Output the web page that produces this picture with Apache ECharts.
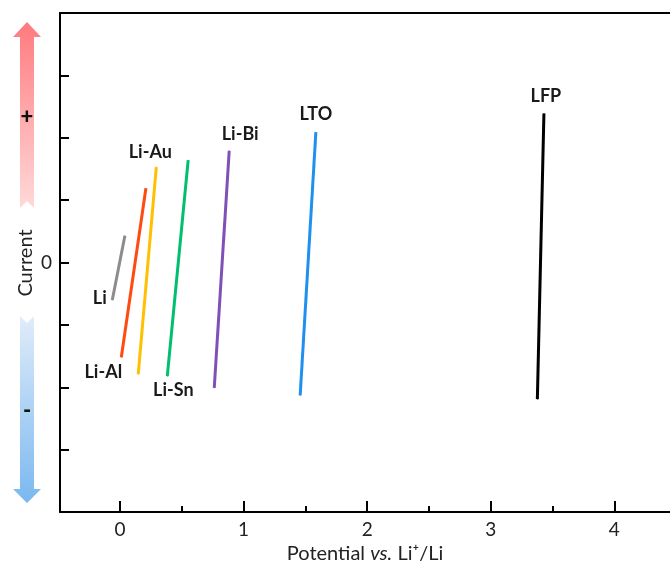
<!DOCTYPE html>
<html>
<head>
<meta charset="utf-8">
<script src="https://cdn.jsdelivr.net/npm/echarts@6/dist/echarts.min.js"></script>
<style>
  html, body { margin: 0; padding: 0; background: #fff; }
  #chart { width: 670px; height: 564px; }
</style>
</head>
<body>
<div id="chart"></div>
<script>
// 各电极的 电位/电流 端点
const names = ['Li', 'Li-Al', 'Li-Au', 'Li-Sn', 'Li-Bi', 'LTO', 'LFP']
const potentialLow = [-0.062, 0.011, 0.148, 0.383, 0.763, 1.458, 3.377]
const potentialHigh = [0.04, 0.21, 0.294, 0.552, 0.884, 1.585, 3.43]
const currentLow = [-0.60, -1.52, -1.79, -1.82, -2.01, -2.13, -2.19]
const currentHigh = [0.43, 1.19, 1.53, 1.64, 1.79, 2.09, 2.39]
const colors = ['#8c8c8c', '#ff4a10', '#ffc000', '#00c070', '#8050b8', '#2090f0', '#000000']

const xMajorTicks = [0, 1, 2, 3, 4]
const xMinorTicks = [0.5, 1.5, 2.5, 3.5]

// 标签放在哪一端 + 偏移
const labelSpec = [
  { end: 0, position: 'left', offset: [0, -2] },
  { end: 0, position: 'bottom', offset: [-18, 0] },
  { end: 1, position: 'top', offset: [-6, 0] },
  { end: 0, position: 'bottom', offset: [6, 0] },
  { end: 1, position: 'top', offset: [11, -2] },
  { end: 1, position: 'top', offset: [0, -3] },
  { end: 1, position: 'top', offset: [2, -3] },
]

const FONT = 'Lato, "Open Sans", sans-serif'

const chart = echarts.init(document.getElementById('chart'))

const series = names.map((name, i) => {
  const spec = labelSpec[i]
  const pts = [
    { value: [potentialLow[i], currentLow[i]] },
    { value: [potentialHigh[i], currentHigh[i]] },
  ]
  pts[spec.end].label = {
    show: true,
    formatter: name,
    position: spec.position,
    offset: spec.offset,
    distance: 5,
    fontFamily: FONT,
    fontWeight: 'bold',
    fontSize: 18,
    color: '#1a1a1a',
  }
  return {
    name,
    type: 'line',
    xAxisIndex: 0,
    yAxisIndex: 0,
    data: pts,
    symbol: 'circle',
    symbolSize: 1,
    showSymbol: true,
    itemStyle: { color: colors[i] },
    lineStyle: { color: colors[i], width: 3 },
    silent: true,
    z: 3,
  }
})

const upGrad = new echarts.graphic.LinearGradient(0, 0, 0, 1, [
  { offset: 0, color: '#ff7a7e' },
  { offset: 1, color: '#ffd9d9' },
])
const downGrad = new echarts.graphic.LinearGradient(0, 0, 0, 1, [
  { offset: 0, color: '#e0ecf9' },
  { offset: 1, color: '#7ab8f0' },
])

chart.setOption({
  animation: false,
  backgroundColor: '#fff',
  grid: { left: 60, right: 0, top: 13, bottom: 52, containLabel: false, outerBoundsMode: 'none' },
  xAxis: [
    {
      type: 'value',
      min: -0.485,
      max: 4.45,
      position: 'bottom',
      name: 'Potential {i|vs.} Li\u207A/Li',
      nameLocation: 'middle',
      nameGap: 23,
      nameTextStyle: {
        fontFamily: FONT,
        fontSize: 20,
        color: '#222',
        rich: { i: { fontFamily: FONT, fontSize: 20, fontStyle: 'italic', color: '#222' } },
      },
      axisLine: { onZero: false, lineStyle: { color: '#000', width: 2 } },
      axisTick: { inside: true, length: 11, customValues: xMajorTicks, lineStyle: { color: '#000', width: 2 } },
      axisLabel: { customValues: xMajorTicks, margin: 8, fontFamily: FONT, fontSize: 19, color: '#222' },
      splitLine: { show: false },
    },
    {
      type: 'value',
      min: -0.485,
      max: 4.45,
      position: 'bottom',
      axisLine: { show: false, onZero: false },
      axisTick: { inside: true, length: 6, customValues: xMinorTicks, lineStyle: { color: '#000', width: 2 } },
      axisLabel: { show: false },
      splitLine: { show: false },
    },
    {
      type: 'value',
      min: -0.485,
      max: 4.45,
      position: 'top',
      axisLine: { onZero: false, lineStyle: { color: '#000', width: 2 } },
      axisTick: { show: false },
      axisLabel: { show: false },
      splitLine: { show: false },
    },
  ],
  yAxis: {
    type: 'value',
    min: -4,
    max: 4,
    interval: 1,
    axisLine: { onZero: false, lineStyle: { color: '#000', width: 2 } },
    axisTick: { inside: true, length: 9, lineStyle: { color: '#000', width: 2 } },
    axisLabel: {
      margin: 8,
      fontFamily: FONT,
      fontSize: 19,
      color: '#222',
      formatter: (v) => (v === 0 ? '0' : ''),
    },
    splitLine: { show: false },
  },
  graphic: [
    {
      type: 'polygon',
      shape: { points: [[27, 22], [41, 37], [34, 37], [34, 208], [27, 201], [20, 208], [20, 37], [13, 37]] },
      style: { fill: upGrad },
    },
    {
      type: 'polygon',
      shape: { points: [[20, 316], [27, 323], [34, 316], [34, 489], [41, 489], [27, 503], [13, 489], [20, 489]] },
      style: { fill: downGrad },
    },
    {
      type: 'text',
      x: 27, y: 117,
      style: { text: '+', fontFamily: FONT, fontWeight: 900, fontSize: 22, fill: '#111', align: 'center', verticalAlign: 'middle' },
    },
    {
      type: 'text',
      x: 27, y: 411,
      style: { text: '-', fontFamily: FONT, fontWeight: 900, fontSize: 22, fill: '#111', align: 'center', verticalAlign: 'middle' },
    },
    {
      type: 'text',
      x: 26, y: 263,
      rotation: Math.PI / 2,
      style: { text: 'Current', fontFamily: FONT, fontSize: 20, fill: '#222', align: 'center', verticalAlign: 'middle' },
    },
  ],
  series,
})
</script>
</body>
</html>
